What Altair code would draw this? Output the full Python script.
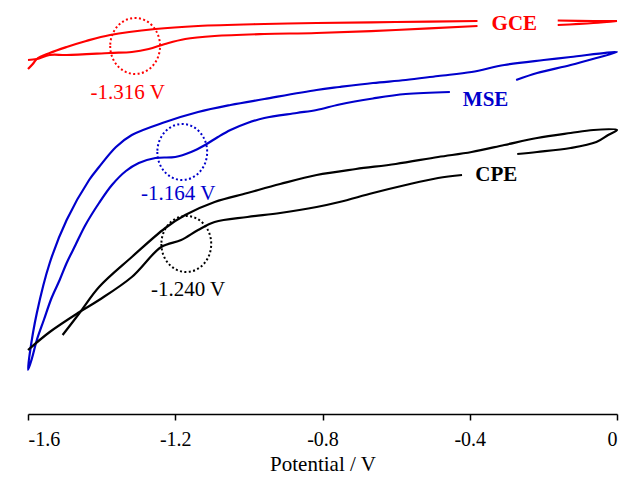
import altair as alt
import pandas as pd

# ---- data (potential in V, current in arbitrary units) ----
# GCE (red) – upper branch, split by the "GCE" label gap
gce_up_x1 = [-1.600, -1.587, -1.576, -1.541, -1.495, -1.442, -1.377, -1.254, -1.138, -0.958, -0.816, -0.601, -0.379]
gce_up_y1 = [34.5, 35.0, 35.5, 36.1, 36.7, 37.3, 37.9, 38.5, 38.8, 39.0, 39.1, 39.2, 39.3]
gce_up_x2 = [-0.161, -0.064, 0.0]
gce_up_y2 = [39.35, 39.3, 39.3]
# GCE – lower branch
gce_lo_x1 = [-1.600, -1.576, -1.541, -1.495, -1.377, -1.318, -1.272, -1.228, -1.173, -1.093, -0.958, -0.816, -0.601, -0.379]
gce_lo_y1 = [35.4, 35.5, 35.9, 35.9, 36.1, 36.2, 36.5, 37.0, 37.5, 37.8, 38.0, 38.1, 38.4, 38.8]
gce_lo_x2 = [-0.161, -0.064, 0.0]
gce_lo_y2 = [38.9, 39.1, 39.3]

# MSE (blue) – one continuous scan: return piece, tip, upper branch, negative tip, lower branch
mse_x = [-0.274, -0.217, -0.126, -0.056, 0.0,
         -0.126, -0.199, -0.306, -0.395, -0.486, -0.574, -0.663, -0.754, -0.816, -0.958, -1.050,
         -1.138, -1.227, -1.318, -1.361, -1.407, -1.434, -1.495, -1.541, -1.576, -1.595, -1.600,
         -1.589, -1.576, -1.557, -1.536, -1.514, -1.495, -1.471, -1.444, -1.407, -1.372, -1.334,
         -1.299, -1.254, -1.200, -1.157, -1.119, -1.084, -1.050, -1.004, -0.958, -0.870, -0.816,
         -0.754, -0.663, -0.574, -0.454]
mse_y = [33.4, 34.1, 34.9, 35.6, 36.2,
         35.7, 35.4, 34.9, 34.2, 33.8, 33.4, 33.1, 32.7, 32.4, 31.5, 30.9,
         30.2, 29.2, 27.9, 26.7, 24.7, 23.4, 19.4, 15.1, 10.1, 6.1, 4.4,
         5.6, 7.4, 9.4, 11.6, 13.4, 15.1, 16.9, 18.9, 21.1, 22.9, 24.3,
         25.1, 25.6, 25.7, 26.2, 26.9, 27.7, 28.4, 29.1, 29.6, 30.1, 30.4,
         30.95, 31.55, 32.0, 32.2]

# CPE (black) – two traces
cpe_a_x = [-1.506, -1.460, -1.407, -1.318, -1.227, -1.173, -1.093, -1.004, -0.915, -0.816, -0.709, -0.601,
           -0.486, -0.395, -0.306, -0.217, -0.126, -0.064, 0.0, -0.024, -0.056, -0.126, -0.217, -0.271]
cpe_a_y = [7.9, 10.1, 12.7, 15.7, 18.6, 19.9, 21.2, 22.1, 23.0, 23.9, 24.5, 25.0,
           25.7, 26.2, 26.9, 27.6, 28.1, 28.4, 28.4, 27.9, 27.2, 26.6, 26.2, 26.0]
cpe_b_x = [-1.600, -1.541, -1.460, -1.407, -1.318, -1.238, -1.184, -1.138, -1.093, -1.004, -0.915, -0.816,
           -0.754, -0.663, -0.574, -0.486, -0.421]
cpe_b_y = [6.4, 8.2, 10.2, 11.4, 13.7, 16.7, 17.4, 18.4, 19.2, 19.7, 20.1, 20.7,
           21.2, 22.1, 22.9, 23.6, 23.9]

# annotations
electrodes = ["GCE", "MSE", "CPE"]
colors = ["#ff0000", "#0000cc", "#000000"]
name_x = [-0.279, -0.357, -0.328]
name_y = [39.0, 31.4, 23.9]
peak_labels = ["-1.316 V", "-1.164 V", "-1.240 V"]
peak_lab_x = [-1.329, -1.192, -1.165]
peak_lab_y = [32.1, 22.0, 12.4]
circle_x = [-1.309, -1.181, -1.170]
circle_y = [36.8, 26.2, 17.0]

tick_values = [-1.6, -1.2, -0.8, -0.4, 0]

# ---- build tables ----
rows = []
segments = [
    ("GCE", "gce_up1", gce_up_x1, gce_up_y1),
    ("GCE", "gce_up2", gce_up_x2, gce_up_y2),
    ("GCE", "gce_lo1", gce_lo_x1, gce_lo_y1),
    ("GCE", "gce_lo2", gce_lo_x2, gce_lo_y2),
    ("MSE", "mse", mse_x, mse_y),
    ("CPE", "cpe_a", cpe_a_x, cpe_a_y),
    ("CPE", "cpe_b", cpe_b_x, cpe_b_y),
]
for el, seg, xs, ys in segments:
    for i, (xv, yv) in enumerate(zip(xs, ys)):
        rows.append({"electrode": el, "seg": seg, "i": i, "E": xv, "I": yv})
curves = pd.DataFrame(rows)

ann = pd.DataFrame({
    "electrode": electrodes,
    "nx": name_x, "ny": name_y,
    "label": peak_labels, "lx": peak_lab_x, "ly": peak_lab_y,
    "cx": circle_x, "cy": circle_y,
})

SERIF = "Liberation Serif"
color_scale = alt.Scale(domain=electrodes, range=colors)
xscale = alt.Scale(domain=[-1.6, 0], nice=False, zero=False)
yscale = alt.Scale(domain=[0, 40.6], nice=False, zero=False)

xaxis = alt.Axis(values=tick_values, title="Potential / V", grid=False,
                 labelExpr="datum.value == 0 ? '0' : '' + datum.value",
                 domainColor="black", domainWidth=1.5, tickColor="black", tickWidth=1.5, tickSize=6,
                 labelFont=SERIF, labelFontSize=20, labelColor="black", labelPadding=9,
                 titleFont=SERIF, titleFontSize=21, titleFontWeight="normal", titleColor="black",
                 titlePadding=4)

lines = alt.Chart(curves).mark_line(strokeWidth=2.2, interpolate="catmull-rom").encode(
    x=alt.X("E:Q", scale=xscale, axis=xaxis),
    y=alt.Y("I:Q", scale=yscale, axis=None),
    color=alt.Color("electrode:N", scale=color_scale, legend=None),
    detail="seg:N",
    order="i:Q",
)

ellipse = "M -0.89 0 A 0.89 1 0 1 0 0.89 0 A 0.89 1 0 1 0 -0.89 0 Z"
circles = alt.Chart(ann).mark_point(shape=ellipse, size=3136, filled=False,
                                     strokeWidth=2, strokeDash=[2, 2.4], opacity=1).encode(
    x=alt.X("cx:Q", scale=xscale),
    y=alt.Y("cy:Q", scale=yscale),
    color=alt.Color("electrode:N", scale=color_scale, legend=None),
)

peak_text = alt.Chart(ann).mark_text(font=SERIF, fontSize=21).encode(
    x=alt.X("lx:Q", scale=xscale),
    y=alt.Y("ly:Q", scale=yscale),
    text="label:N",
    color=alt.Color("electrode:N", scale=color_scale, legend=None),
)

name_text = alt.Chart(ann).mark_text(font=SERIF, fontSize=21, fontWeight="bold").encode(
    x=alt.X("nx:Q", scale=xscale),
    y=alt.Y("ny:Q", scale=yscale),
    text="electrode:N",
    color=alt.Color("electrode:N", scale=color_scale, legend=None),
)

chart = alt.layer(lines, circles, peak_text, name_text).properties(
    width=589, height=406,
    autosize=alt.AutoSizeParams(type="none"),
    padding={"left": 20, "top": 0, "right": 5, "bottom": 60},
).configure_view(stroke=None)

chart.save("out.html", embed_options={"renderer": "svg", "actions": False})
